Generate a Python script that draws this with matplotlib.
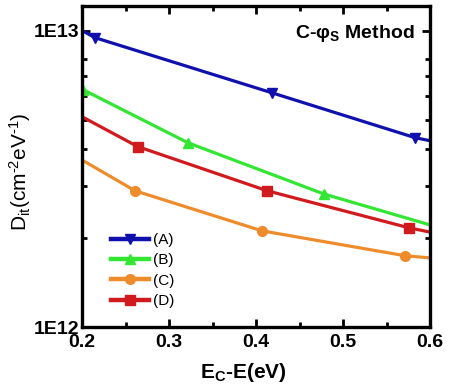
import matplotlib
matplotlib.use("Agg")
import matplotlib.pyplot as plt
from matplotlib.lines import Line2D
from matplotlib.ticker import FixedLocator, FixedFormatter, NullFormatter, MultipleLocator

plt.rcParams['font.family'] = ['Liberation Sans', 'DejaVu Sans']
plt.rcParams['mathtext.fontset'] = 'custom'
plt.rcParams['mathtext.rm'] = 'Liberation Sans'
plt.rcParams['mathtext.it'] = 'Liberation Sans:italic'
plt.rcParams['mathtext.bf'] = 'Liberation Sans:bold'

# Data (E_C - E in eV, D_it in cm^-2 eV^-1)
a_x = [0.200, 0.215, 0.418, 0.583, 0.600]
a_y = [1.00e13, 9.46e12, 6.17e12, 4.35e12, 4.25e12]
a_marks = [1, 2, 3]

b_x = [0.201, 0.322, 0.478, 0.600]
b_y = [6.32e12, 4.18e12, 2.81e12, 2.21e12]
b_marks = [0, 1, 2]

c_x = [0.200, 0.261, 0.407, 0.571, 0.600]
c_y = [3.66e12, 2.88e12, 2.11e12, 1.74e12, 1.71e12]
c_marks = [1, 2, 3]

d_x = [0.200, 0.264, 0.413, 0.576, 0.600]
d_y = [5.12e12, 4.06e12, 2.88e12, 2.16e12, 2.09e12]
d_marks = [1, 2, 3]

labels = ['(A)', '(B)', '(C)', '(D)']
colors = ['#1010AE', '#33E633', '#EE8C2C', '#D11A1E']
markers = ['v', '^', 'o', 's']

fig = plt.figure(figsize=(4.49, 3.86), dpi=100)
ax = fig.add_axes([82/449, 59/386, 348/449, 321/386])

series = [(a_x, a_y, a_marks), (b_x, b_y, b_marks), (c_x, c_y, c_marks), (d_x, d_y, d_marks)]
for (xs, ys, mk), col, m, lab in zip(series, colors, markers, labels):
    ax.plot(xs, ys, color=col, lw=2.3, marker=m, ms=7, markevery=mk,
            markeredgecolor=col, markerfacecolor=col, label=lab)

ax.set_yscale('log')
ax.set_xlim(0.2, 0.6)
ax.set_ylim(1e12, 1.21e13)

ax.xaxis.set_minor_locator(MultipleLocator(0.05))
ax.set_xticks([0.2, 0.3, 0.4, 0.5, 0.6])
ax.set_xticklabels(['0.2', '0.3', '0.4', '0.5', '0.6'], fontweight='bold', fontsize=14)

ax.yaxis.set_major_locator(FixedLocator([1e12, 1e13]))
ax.yaxis.set_major_formatter(FixedFormatter(['1E12', '1E13']))
ax.yaxis.set_minor_locator(FixedLocator([k * 1e12 for k in range(2, 9)]))
ax.yaxis.set_minor_formatter(NullFormatter())
for t in ax.get_yticklabels():
    t.set_fontweight('bold')
    t.set_fontsize(14)

ax.tick_params(which='both', direction='in', top=True, right=True, width=2.0)
ax.tick_params(which='major', length=6)
ax.tick_params(which='minor', length=3.5)
ax.tick_params(axis='x', which='major', pad=5)
ax.tick_params(axis='y', which='major', pad=2)

for s in ax.spines.values():
    s.set_linewidth(2.4)

ax.set_xlabel(r'E$_\mathbf{C}$-E(eV)', fontsize=15, fontweight='bold')
ax.xaxis.set_label_coords(0.463, -0.143)
ax.xaxis.label.set_va('center')
ax.set_ylabel('D$_\\mathrm{it}$(cm$^{\u2010 2}$eV$^{\u2010 1}$)', fontsize=15)
ax.yaxis.set_label_coords(-0.178, 0.483)
ax.yaxis.label.set_va('center')

ax.text(0.955, 0.915, r'C-$\mathbf{\varphi_S}$ Method', transform=ax.transAxes,
        ha='right', va='center', fontsize=14, fontweight='bold')

handles = [Line2D([], [], color=c, lw=3.2, marker=m, ms=7, markerfacecolor=c, markeredgecolor=c)
           for c, m in zip(colors, markers)]
ax.legend(handles, labels, loc='lower left', bbox_to_anchor=(0.062, 0.035), frameon=False,
          fontsize=11, handlelength=2.5, handletextpad=0.25, labelspacing=0.42, borderpad=0)

fig.savefig('out.png', dpi=100)
